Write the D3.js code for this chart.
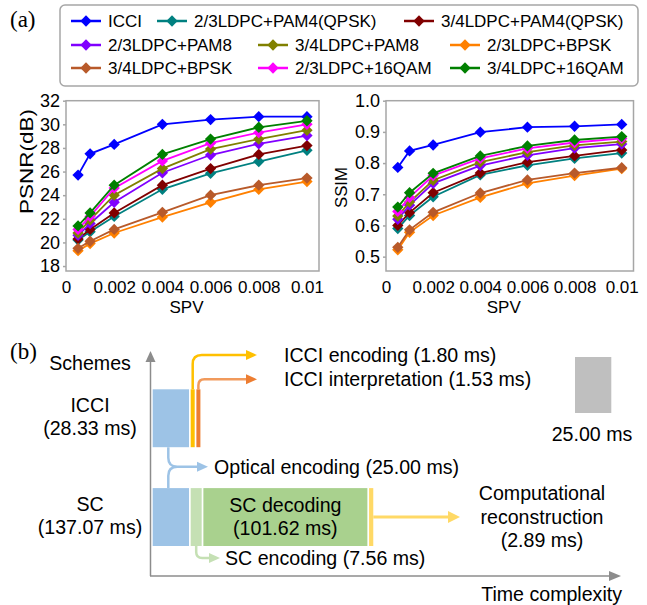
<!DOCTYPE html>
<html>
<head>
<meta charset="utf-8">
<script src="https://cdn.jsdelivr.net/npm/d3@7"></script>
<style>
  body { margin: 0; background: #fff; }
  svg { display: block; }
  text { font-family: "Liberation Sans", Arial, sans-serif; fill: #000; }
</style>
</head>
<body>
<svg width="647" height="605"></svg>
<script>
// ---- panel (a) data ----
const SPV = [0.0005, 0.001, 0.002, 0.004, 0.006, 0.008, 0.01];
const SCHEMES = ["ICCI", "2/3LDPC+PAM4(QPSK)", "3/4LDPC+PAM4(QPSK)",
                 "2/3LDPC+PAM8", "3/4LDPC+PAM8", "2/3LDPC+BPSK",
                 "3/4LDPC+BPSK", "2/3LDPC+16QAM", "3/4LDPC+16QAM"];
const COLORS = ["#0000ff", "#008080", "#800000", "#8000ff", "#808000",
                "#ff8000", "#b85a2a", "#ff00ff", "#008000"];

// PSNR (dB), one list per scheme, same order as SCHEMES
const psnrIcci     = [25.7, 27.5, 28.3, 30.0, 30.4, 30.65, 30.65];
const psnr23Pam4   = [20.2, 20.9, 22.2, 24.5, 25.85, 26.85, 27.8];
const psnr34Pam4   = [20.3, 21.1, 22.5, 24.85, 26.25, 27.45, 28.2];
const psnr23Pam8   = [20.6, 21.6, 23.4, 25.9, 27.4, 28.35, 29.05];
const psnr34Pam8   = [20.8, 21.9, 24.0, 26.25, 27.9, 28.75, 29.5];
const psnr23Bpsk   = [19.3, 19.9, 20.8, 22.15, 23.4, 24.5, 25.15];
const psnr34Bpsk   = [19.5, 20.1, 21.1, 22.55, 24.0, 24.85, 25.45];
const psnr23Qam16  = [21.1, 22.2, 24.6, 26.9, 28.4, 29.3, 30.0];
const psnr34Qam16  = [21.4, 22.5, 24.85, 27.45, 28.75, 29.75, 30.3];

// SSIM
const ssimIcci     = [0.786, 0.839, 0.858, 0.899, 0.915, 0.918, 0.924];
const ssim23Pam4   = [0.590, 0.632, 0.692, 0.762, 0.793, 0.815, 0.832];
const ssim34Pam4   = [0.600, 0.641, 0.705, 0.768, 0.803, 0.823, 0.842];
const ssim23Pam8   = [0.620, 0.665, 0.735, 0.792, 0.825, 0.848, 0.861];
const ssim34Pam8   = [0.630, 0.675, 0.745, 0.803, 0.835, 0.857, 0.869];
const ssim23Bpsk   = [0.522, 0.578, 0.632, 0.690, 0.735, 0.760, 0.782];
const ssim34Bpsk   = [0.530, 0.586, 0.642, 0.704, 0.746, 0.768, 0.785];
const ssim23Qam16  = [0.645, 0.690, 0.760, 0.815, 0.847, 0.866, 0.879];
const ssim34Qam16  = [0.659, 0.705, 0.767, 0.823, 0.855, 0.874, 0.885];

const PSNR_TICKS = [18, 20, 22, 24, 26, 28, 30, 32];
const SSIM_TICKS = [0.5, 0.6, 0.7, 0.8, 0.9, 1.0];
const SPV_TICKS = [0, 0.002, 0.004, 0.006, 0.008, 0.01];

// ---- panel (b) data ----
const ROWS = ["ICCI", "SC"];
const ROW_TOTALS = ["28.33", "137.07"];
const STAGES = ["Optical encoding", "ICCI encoding", "ICCI interpretation",
                "SC encoding", "SC decoding", "Computational reconstruction"];
const STAGE_MS = [25.00, 1.80, 1.53, 7.56, 101.62, 2.89];
const STAGE_ROW = ["ICCI", "ICCI", "ICCI", "SC", "SC", "SC"];
const STAGE_COLORS = ["#9dc3e6", "#ffc000", "#ed7d31", "#c5e0b4", "#a9d18e", "#ffd966"];
const SCALE_BAR_MS = 25.00;

const psnrSeries = [psnrIcci, psnr23Pam4, psnr34Pam4, psnr23Pam8, psnr34Pam8,
                    psnr23Bpsk, psnr34Bpsk, psnr23Qam16, psnr34Qam16];
const ssimSeries = [ssimIcci, ssim23Pam4, ssim34Pam4, ssim23Pam8, ssim34Pam8,
                    ssim23Bpsk, ssim34Bpsk, ssim23Qam16, ssim34Qam16];

const svg = d3.select("svg");
const FRAME = "#a6a6a6";
const FS_B = "19.6px";   // text size in panel (b)

function diamond(sel, color) {
    sel.append("path")
        .attr("d", d3.symbol(d3.symbolSquare, 64)())
        .attr("transform", "rotate(45)")
        .attr("fill", color);
}

function drawPanel(box, yDomain, yTicks, yFmt, title, series) {
    const x = d3.scaleLinear().domain([0, 0.0105]).range([box.x0, box.x1]);
    const y = d3.scaleLinear().domain(yDomain).range([box.y1, box.y0]);
    const g = svg.append("g");

    g.append("rect")
        .attr("x", box.x0).attr("y", box.y0)
        .attr("width", box.x1 - box.x0).attr("height", box.y1 - box.y0)
        .attr("fill", "none").attr("stroke", FRAME).attr("stroke-width", 1.5);

    const ya = g.append("g")
        .attr("transform", `translate(${box.x0},0)`)
        .call(d3.axisLeft(y).tickValues(yTicks).tickFormat(yFmt).tickSize(3).tickPadding(3));
    ya.select(".domain").remove();
    ya.selectAll("line").attr("stroke", FRAME).attr("stroke-width", 1.5);
    ya.selectAll("text").style("font-size", "18px").style("font-family", "Liberation Sans, Arial");

    const xa = g.append("g")
        .attr("transform", `translate(0,${box.y1})`)
        .call(d3.axisBottom(x).tickValues(SPV_TICKS)
            .tickFormat(d => String(+d.toFixed(3))).tickSize(0).tickPadding(10));
    xa.select(".domain").remove();
    xa.selectAll("text").style("font-size", "17px").style("font-family", "Liberation Sans, Arial");

    g.append("text")
        .attr("x", (box.x0 + box.x1) / 2 - 6).attr("y", 313)
        .attr("text-anchor", "middle").style("font-size", "17px")
        .text("SPV");

    g.append("text")
        .attr("transform", `translate(${title.x},${title.y}) rotate(-90)`)
        .attr("text-anchor", "middle").style("font-size", title.size)
        .attr("textLength", title.len).attr("lengthAdjust", "spacingAndGlyphs")
        .text(title.text);

    const line = d3.line().x((d, i) => x(SPV[i])).y(d => y(d));
    series.forEach((vals, k) => {
        g.append("path")
            .attr("d", line(vals))
            .attr("fill", "none").attr("stroke", COLORS[k]).attr("stroke-width", 1.8);
        vals.forEach((v, i) => {
            g.append("g")
                .attr("transform", `translate(${x(SPV[i])},${y(v)})`)
                .call(diamond, COLORS[k]);
        });
    });
}

drawPanel({x0: 66, x1: 319, y0: 100.7, y1: 271}, [17.58, 32], PSNR_TICKS, d3.format("d"),
          {text: "PSNR(dB)", x: 33, y: 161.5, size: "19px", len: 105}, psnrSeries);
drawPanel({x0: 386, x1: 633.5, y0: 100.7, y1: 271}, [0.454, 1.0], SSIM_TICKS, d3.format(".1f"),
          {text: "SSIM", x: 347, y: 187.5, size: "17px", len: 41}, ssimSeries);

// legend
const legendPos = [[71, 21], [157, 21], [404, 21],
                   [71, 45], [258, 45], [450, 45],
                   [71, 68], [258, 68], [450, 68]];
svg.append("rect")
    .attr("x", 60).attr("y", 5).attr("width", 578).attr("height", 81).attr("rx", 5)
    .attr("fill", "#fff").attr("stroke", FRAME).attr("stroke-width", 1.5);
SCHEMES.forEach((name, k) => {
    const [lx, ly] = legendPos[k];
    const lg = svg.append("g").attr("transform", `translate(${lx},${ly})`);
    lg.append("line").attr("x1", 0).attr("x2", 30)
        .attr("stroke", COLORS[k]).attr("stroke-width", 2.5);
    lg.append("g").attr("transform", "translate(15,0)").call(diamond, COLORS[k]);
    lg.append("text").attr("x", 37).attr("dy", "0.35em")
        .style("font-size", "17px").text(name);
});

svg.append("text").attr("x", 10).attr("y", 27)
    .style("font-family", "Liberation Serif, Times New Roman, serif").style("font-size", "23px")
    .text("(a)");

// ---- panel (b) ----
svg.append("text").attr("x", 10).attr("y", 359)
    .style("font-family", "Liberation Serif, Times New Roman, serif").style("font-size", "23px")
    .text("(b)");

const t = d3.scaleLinear().domain([0, 25, 101.62]).range([0, 36.3, 164]);
const rowY = d3.scaleBand().domain(ROWS).range([389.3, 546]).paddingInner(0.414);
const x0 = 152.7, gap = 1.7, minW = 4;

const AX = "#8c8c8c";
const arrowHead = (g, x, y, color, len, half) => {
    g.append("path")
        .attr("d", `M${x},${y}L${x - len},${y - half}L${x - len},${y + half}Z`)
        .attr("fill", color);
};

// axes
svg.append("line").attr("x1", 150.5).attr("x2", 150.5).attr("y1", 360).attr("y2", 576)
    .attr("stroke", AX).attr("stroke-width", 1.5);
svg.append("path").attr("d", "M150.5,351L145.5,362L155.5,362Z").attr("fill", AX);
svg.append("line").attr("x1", 150).attr("x2", 610).attr("y1", 576).attr("y2", 576)
    .attr("stroke", AX).attr("stroke-width", 1.5);
arrowHead(svg, 621, 576, AX, 12, 5);

svg.append("text").attr("x", 90).attr("y", 363).attr("dy", "0.35em")
    .attr("text-anchor", "middle").style("font-size", FS_B).text("Schemes");
svg.append("text").attr("x", 622).attr("y", 594).attr("dy", "0.35em")
    .attr("text-anchor", "end").style("font-size", FS_B).text("Time complexity");

// stage bars
const bars = [];
ROWS.forEach((row, r) => {
    let cx = x0;
    STAGES.forEach((s, i) => {
        if (STAGE_ROW[i] !== row && i !== 0) return;
        const w = Math.max(minW, t(STAGE_MS[i]));
        bars.push({row, i, x: cx, w, y: rowY(row), h: rowY.bandwidth()});
        cx += w + gap;
    });
    svg.append("text").attr("x", 90).attr("y", rowY(row) + 16).attr("dy", "0.35em")
        .attr("text-anchor", "middle").style("font-size", FS_B).text(row);
    svg.append("text").attr("x", 90).attr("y", rowY(row) + 39).attr("dy", "0.35em")
        .attr("text-anchor", "middle").style("font-size", FS_B).text(`(${ROW_TOTALS[r]} ms)`);
});

svg.selectAll("rect.stage").data(bars).enter().append("rect")
    .attr("class", "stage")
    .attr("x", d => d.x).attr("y", d => d.y)
    .attr("width", d => d.w).attr("height", d => d.h)
    .attr("fill", d => STAGE_COLORS[d.i]);

const bar = (row, i) => bars.find(b => b.row === row && b.i === i);
const label = (x, y, txt, anchor) => svg.append("text").attr("x", x).attr("y", y)
    .attr("dy", "0.35em").attr("text-anchor", anchor || "start")
    .style("font-size", FS_B).text(txt);
const stageText = i => `${STAGES[i]} (${STAGE_MS[i].toFixed(2)} ms)`;

// ICCI encoding / interpretation callouts
[[1, 355, 9], [2, 379.3, 6]].forEach(([i, ly, r]) => {
    const b = bar("ICCI", i);
    const cx = b.x + b.w / 2;
    svg.append("path")
        .attr("d", `M${cx},${b.y}V${ly + r}Q${cx},${ly} ${cx + r},${ly}H${247}`)
        .attr("fill", "none").attr("stroke", i === 1 ? "#ffc000" : "#f19a5c").attr("stroke-width", 2.5);
    arrowHead(svg, 257, ly, STAGE_COLORS[i], 11, 5);
    label(284, ly, stageText(i));
});

// optical encoding callout (shared by both rows)
{
    const bi = bar("ICCI", 0), bs = bar("SC", 0);
    const cx = bi.x + 15.6, my = 466.7, r = 9;
    svg.append("path")
        .attr("d", `M${cx},${bi.y + bi.h}V${my - r}Q${cx},${my} ${cx + r},${my}` +
                   `M${cx},${bs.y}V${my + r}Q${cx},${my} ${cx + r},${my}H198`)
        .attr("fill", "none").attr("stroke", STAGE_COLORS[0]).attr("stroke-width", 2.5);
    arrowHead(svg, 208, my, STAGE_COLORS[0], 11, 5);
    label(214, my, stageText(0));
}

// SC encoding callout
{
    const b = bar("SC", 3);
    const cx = b.x + b.w / 2, ly = 558, r = 6;
    svg.append("path")
        .attr("d", `M${cx},${b.y + b.h}V${ly - r}Q${cx},${ly} ${cx + r},${ly}H210`)
        .attr("fill", "none").attr("stroke", STAGE_COLORS[3]).attr("stroke-width", 2.5);
    arrowHead(svg, 220, ly, STAGE_COLORS[3], 11, 5);
    label(225, ly, stageText(3));
}

// SC decoding inside bar
{
    const b = bar("SC", 4);
    label(b.x + b.w / 2, 505, STAGES[4], "middle");
    label(b.x + b.w / 2, 528, `(${STAGE_MS[4].toFixed(2)} ms)`, "middle");
}

// computational reconstruction callout
{
    const b = bar("SC", 5);
    const ly = 517;
    svg.append("line").attr("x1", b.x + b.w).attr("x2", 449).attr("y1", ly).attr("y2", ly)
        .attr("stroke", STAGE_COLORS[5]).attr("stroke-width", 3);
    arrowHead(svg, 460, ly, STAGE_COLORS[5], 12, 6);
    label(542, 493, "Computational", "middle");
    label(542, 517, "reconstruction", "middle");
    label(542, 540, `(${STAGE_MS[5].toFixed(2)} ms)`, "middle");
}

// scale bar
svg.append("rect").attr("x", 575).attr("y", 357)
    .attr("width", t(SCALE_BAR_MS)).attr("height", 56).attr("fill", "#bfbfbf");
label(592, 434, `${SCALE_BAR_MS.toFixed(2)} ms`, "middle");
</script>
</body>
</html>
